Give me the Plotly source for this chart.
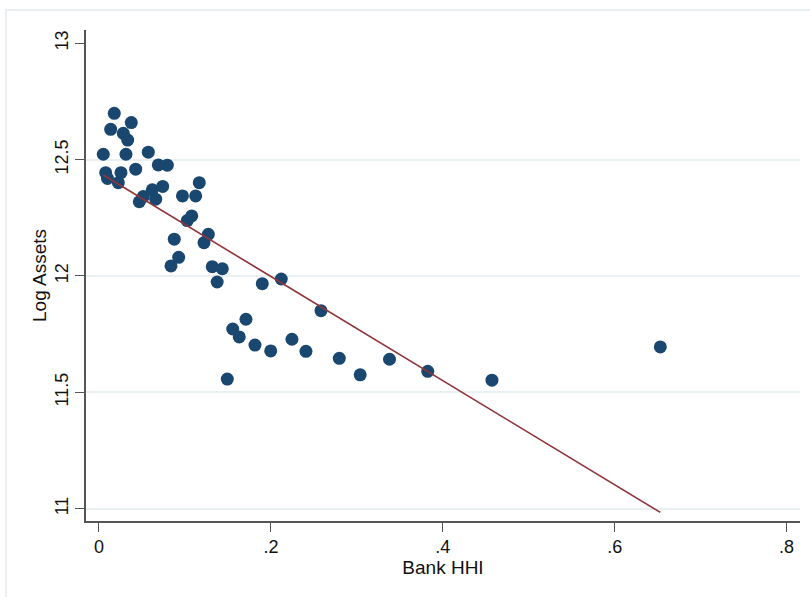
import numpy as np
import plotly.graph_objects as go

# Data
bank_hhi = [0.0050, 0.0078, 0.0099, 0.0136, 0.0178, 0.0225, 0.0256, 0.0283, 0.0314, 0.0334,
            0.0376, 0.0427, 0.0469, 0.0515, 0.0574, 0.0620, 0.0660, 0.0690, 0.0741, 0.0795,
            0.0838, 0.0876, 0.0927, 0.0971, 0.1027, 0.1079, 0.1125, 0.1167, 0.1222, 0.1272,
            0.1318, 0.1375, 0.1435, 0.1493, 0.1556, 0.1632, 0.1710, 0.1815, 0.1900, 0.1998,
            0.2121, 0.2245, 0.2408, 0.2583, 0.2796, 0.3039, 0.3380, 0.3825, 0.4572, 0.6531]
log_assets = [12.523, 12.444, 12.419, 12.630, 12.699, 12.401, 12.444, 12.613, 12.523, 12.584,
              12.659, 12.459, 12.319, 12.341, 12.532, 12.370, 12.330, 12.477, 12.385, 12.476,
              12.043, 12.158, 12.080, 12.344, 12.238, 12.258, 12.344, 12.401, 12.143, 12.179,
              12.040, 11.974, 12.031, 11.557, 11.772, 11.738, 11.814, 11.703, 11.967, 11.678,
              11.987, 11.728, 11.676, 11.851, 11.646, 11.575, 11.642, 11.590, 11.552, 11.695]

x_ticks = [0, 0.2, 0.4, 0.6, 0.8]
x_tick_labels = ["0", ".2", ".4", ".6", ".8"]
y_ticks = [11, 11.5, 12, 12.5, 13]
y_tick_labels = ["11", "11.5", "12", "12.5", "13"]
y_grid = [11, 11.5, 12, 12.5]

# Linear fit (OLS) computed from the data
xa = np.array(bank_hhi)
ya = np.array(log_assets)
slope, intercept = np.polyfit(xa, ya, 1)
fit_x = [xa.min(), xa.max()]
fit_y = [intercept + slope * v for v in fit_x]

FONT = "Liberation Sans, Arial, sans-serif"
AXIS_COL = "#555555"

fig = go.Figure()
fig.add_trace(go.Scatter(x=[], y=[], xaxis="x", yaxis="y", showlegend=False))
fig.add_trace(go.Scatter(
    x=bank_hhi, y=log_assets, mode="markers", xaxis="x", yaxis="y2",
    marker=dict(color="#1a476f", size=13, line=dict(width=0)),
    showlegend=False))
fig.add_trace(go.Scatter(
    x=fit_x, y=fit_y, mode="lines", xaxis="x", yaxis="y2",
    line=dict(color="#90353b", width=1.6), showlegend=False))

xr = [-0.0151, 0.8156]
yr = [10.947, 13.057]

fig.update_layout(
    width=810, height=597,
    margin=dict(l=86, r=10, t=30, b=76),
    paper_bgcolor="white", plot_bgcolor="white",
    font=dict(family=FONT, color="#000000"),
    xaxis=dict(
        range=xr, tickvals=x_ticks, ticktext=x_tick_labels,
        showgrid=False, zeroline=False, showline=True, linecolor=AXIS_COL, linewidth=1.6,
        ticks="outside", ticklen=9, tickwidth=1.4, tickcolor=AXIS_COL,
        tickfont=dict(size=18, family=FONT, color="#111111"),
        title=dict(text="Bank HHI", font=dict(size=19, family=FONT, color="#111111"), standoff=4),
    ),
    yaxis=dict(
        range=yr, tickvals=y_grid, showticklabels=False, ticks="",
        showgrid=True, gridcolor="#e9f0f2", gridwidth=1.6,
        zeroline=False, showline=False,
    ),
    yaxis2=dict(
        range=yr, overlaying="y", side="left", anchor="x",
        tickvals=y_ticks, ticktext=y_tick_labels, tickangle=-90,
        showgrid=False, zeroline=False, showline=True, linecolor=AXIS_COL, linewidth=1.6,
        ticks="outside", ticklen=9, tickwidth=1.4, tickcolor=AXIS_COL,
        tickfont=dict(size=18, family=FONT, color="#111111"),
        title=dict(text="Log Assets", font=dict(size=19, family=FONT, color="#111111"), standoff=0),
    ),
    shapes=[dict(type="rect", xref="paper", yref="paper",
                 x0=-0.112, x1=1.03, y0=-0.2, y1=1.0407,
                 line=dict(color="#eaf0f2", width=2), fillcolor="rgba(0,0,0,0)", layer="below")],
)

fig.write_html("out.html")
